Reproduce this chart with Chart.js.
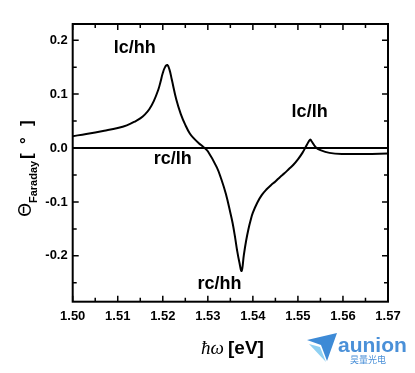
<!DOCTYPE html>
<html>
<head>
<meta charset="utf-8">
<script src="https://cdn.jsdelivr.net/npm/chart.js@4/dist/chart.umd.min.js"></script>
<style>
html,body{margin:0;padding:0;background:#fff}
#wrap{position:relative;width:415px;height:373px}
</style>
</head>
<body>
<div id="wrap"><canvas id="c"></canvas></div>
<script>
// photon energy (eV) and Faraday angle (deg)
const energy=[1.500,1.503,1.507,1.510,1.512,1.514,1.515,1.516,1.517,1.518,1.519,1.5195,1.520,1.5205,1.521,1.5215,1.522,1.523,1.524,1.525,1.526,1.527,1.528,1.529,1.530,1.532,1.533,1.534,1.535,1.5355,1.536,1.5365,1.537,1.5375,1.538,1.5385,1.539,1.5395,1.540,1.541,1.542,1.543,1.544,1.545,1.546,1.547,1.548,1.549,1.550,1.551,1.552,1.5527,1.553,1.554,1.555,1.557,1.560,1.565,1.570];
const theta=[0.022,0.026,0.032,0.037,0.042,0.050,0.055,0.062,0.072,0.087,0.108,0.123,0.139,0.150,0.154,0.145,0.127,0.090,0.063,0.043,0.027,0.017,0.009,0.002,-0.006,-0.036,-0.058,-0.085,-0.120,-0.139,-0.163,-0.190,-0.212,-0.228,-0.198,-0.172,-0.151,-0.134,-0.120,-0.101,-0.087,-0.077,-0.069,-0.062,-0.054,-0.047,-0.039,-0.031,-0.021,-0.009,0.006,0.0155,0.013,0.001,-0.004,-0.009,-0.011,-0.011,-0.010];
const xTicks=[1.50,1.51,1.52,1.53,1.54,1.55,1.56,1.57];
const xMinor=[1.505,1.515,1.525,1.535,1.545,1.555,1.565];
const yTicks=[-0.2,-0.1,0.0,0.1,0.2];
const yMinor=[-0.25,-0.15,-0.05,0.05,0.15];
const noteText=['lc/hh','rc/lh','rc/hh','lc/lh'];
const noteX=[1.5138,1.5222,1.5326,1.5526];
const noteY=[0.186,-0.020,-0.253,0.067];

const F='"Liberation Sans", Arial, sans-serif';

const frame={
  id:'frame',
  afterDraw(ch){
    const c=ch.ctx,a=ch.chartArea,xs=ch.scales.x,ys=ch.scales.y;
    c.save();
    c.strokeStyle='#000';c.lineWidth=2;
    c.strokeRect(a.left,a.top,a.right-a.left,a.bottom-a.top);
    c.lineWidth=1.5;
    const tick=(v,len,axis)=>{
      c.beginPath();
      if(axis==='x'){const p=xs.getPixelForValue(v);c.moveTo(p,a.bottom);c.lineTo(p,a.bottom-len);c.moveTo(p,a.top);c.lineTo(p,a.top+len);}
      else{const p=ys.getPixelForValue(v);c.moveTo(a.left,p);c.lineTo(a.left+len,p);c.moveTo(a.right,p);c.lineTo(a.right-len,p);}
      c.stroke();
    };
    xTicks.forEach(v=>tick(v,6,'x'));xMinor.forEach(v=>tick(v,4,'x'));
    yTicks.forEach(v=>tick(v,6,'y'));yMinor.forEach(v=>tick(v,4,'y'));
    // curve labels
    c.fillStyle='#000';c.font='bold 18px '+F;c.textAlign='center';c.textBaseline='middle';
    noteText.forEach((t,i)=>c.fillText(t,xs.getPixelForValue(noteX[i]),ys.getPixelForValue(noteY[i])));
    // x title
    c.textAlign='left';c.textBaseline='alphabetic';
    c.font='italic 19px "Liberation Serif", serif';
    c.fillText('ħω',201,354);
    c.font='bold 19px '+F;
    c.fillText('[eV]',228,354);
    // y title
    c.save();
    c.translate(31,217);c.rotate(-Math.PI/2);
    c.font='18px "DejaVu Sans", sans-serif';
    c.fillText('Θ',0,0);
    c.font='bold 11px '+F;
    c.fillText('Faraday',14,6);
    c.font='bold 17px '+F;
    c.fillText('[',58,1);c.fillText('°',73,1);c.fillText(']',91,1);
    c.restore();
    // watermark
    c.fillStyle='#3d8ad6';
    c.beginPath();c.moveTo(307,340);c.lineTo(337,333);c.lineTo(327,361);c.lineTo(321,345);c.closePath();c.fill();
    c.fillStyle='#8fd0f2';
    c.beginPath();c.moveTo(309,344);c.lineTo(320,347);c.lineTo(326,362);c.closePath();c.fill();
    c.fillStyle='#4a90d8';
    c.font='bold 21px '+F;c.fillText('aunion',338,352);
    c.font='9px "Noto Sans CJK SC", sans-serif';c.fillText('昊量光电',350,363);
    c.restore();
  }
};

new Chart(document.getElementById('c'),{
  type:'line',
  data:{datasets:[
    {data:energy.map((e,i)=>({x:e,y:theta[i]})),borderColor:'#000',borderWidth:2,pointRadius:0,tension:0.4,fill:false},
    {data:[{x:xTicks[0],y:0},{x:xTicks[xTicks.length-1],y:0}],borderColor:'#000',borderWidth:2,pointRadius:0,fill:false}
  ]},
  options:{
    responsive:true,maintainAspectRatio:false,animation:false,
    layout:{padding:{top:24,right:27,left:0,bottom:0}},
    plugins:{legend:{display:false},tooltip:{enabled:false}},
    scales:{
      x:{type:'linear',min:1.50,max:1.57,
        afterBuildTicks:s=>{s.ticks=xTicks.map(v=>({value:v}));},
        afterFit:s=>{s.height=71.3;},
        grid:{display:false,drawTicks:false},border:{display:false},
        ticks:{padding:7,color:'#000',font:{family:F,size:13,weight:'bold'},callback:v=>v.toFixed(2),maxRotation:0}},
      y:{min:-0.285,max:0.23,
        afterBuildTicks:s=>{s.ticks=yTicks.map(v=>({value:v}));},
        afterFit:s=>{s.width=72.7;},
        grid:{display:false,drawTicks:false},border:{display:false},
        ticks:{padding:5,color:'#000',font:{family:F,size:13,weight:'bold'},callback:v=>v.toFixed(1)}}
    }
  },
  plugins:[frame]
});
</script>
</body>
</html>
